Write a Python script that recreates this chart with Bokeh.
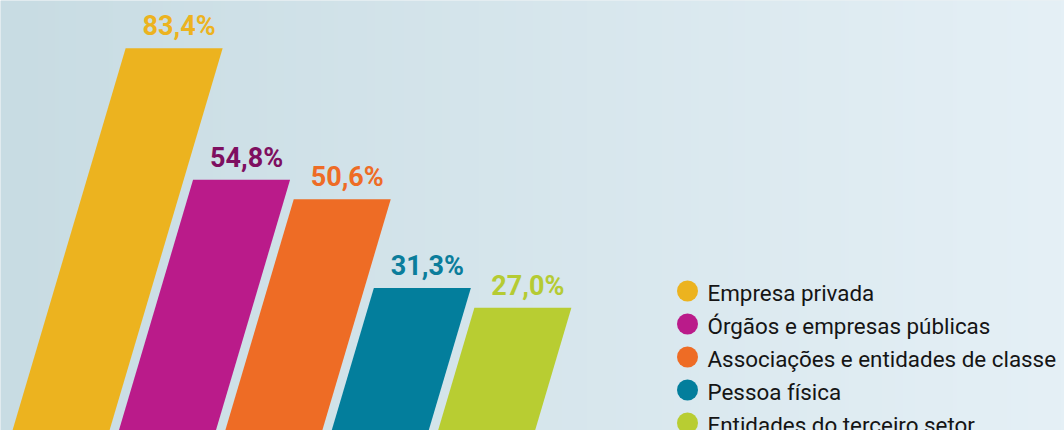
import numpy as np
from bokeh.plotting import figure
from bokeh.models import Range1d, ColumnDataSource
from bokeh.core.properties import value
from bokeh.embed import file_html
from bokeh.resources import INLINE

# ---- data ----
categories = ["Empresa privada", "Órgãos e empresas públicas",
              "Associações e entidades de classe", "Pessoa física",
              "Entidades do terceiro setor"]
values = [83.4, 54.8, 50.6, 31.3, 27.0]
labels = ["83,4%", "54,8%", "50,6%", "31,3%", "27,0%"]
bar_colors = ["#ECB31F", "#BA1B8A", "#EE6C25", "#037E9C", "#B8CD32"]
label_colors = ["#ECB31F", "#7E0F60", "#EE6C25", "#0B7D9B", "#B5CB33"]

# ---- layout constants (screen-like units) ----
W, H = 1064, 430
PX_PER_PCT = 4.603          # vertical pixels per percentage point
ZERO_Y = 431.6              # screen y of 0 %
SKEW = 0.296                # horizontal shift per vertical pixel
BASE0, STEP, BAR_W = 11.5, 106.4, 97.0

def v(screen_y):
    return (ZERO_Y - screen_y) / PX_PER_PCT

FONT = value("Roboto")

p = figure(width=W, height=H, output_backend="svg", toolbar_location=None,
           x_range=Range1d(0, W), y_range=Range1d(v(H), v(0)),
           min_border=0, outline_line_color=None)
p.axis.visible = False
p.grid.visible = False
p.background_fill_color = "#d5e4ea"
p.border_fill_color = "#d5e4ea"

# background gradient (decorative)
n = 256
t = np.linspace(0, 1, n)
c0 = np.array([200, 220, 227]); c1 = np.array([229, 240, 246])
cols = (c0[None, :] * (1 - t[:, None]) + c1[None, :] * t[:, None]).astype(np.uint32)
img = np.empty((1, n), dtype=np.uint32)
img[0, :] = (255 << 24) | (cols[:, 2] << 16) | (cols[:, 1] << 8) | cols[:, 0]
p.image_rgba(image=[img], x=0, y=v(H), dw=W, dh=v(0) - v(H))

# skewed bars
skew_pct = SKEW * PX_PER_PCT  # horizontal units per percentage point
xs, ys = [], []
for i, val in enumerate(values):
    b = BASE0 + i * STEP
    xs.append([b, b + BAR_W, b + BAR_W + skew_pct * val, b + skew_pct * val])
    ys.append([0, 0, val, val])
src = ColumnDataSource(dict(xs=xs, ys=ys, color=bar_colors))
p.patches("xs", "ys", fill_color="color", line_color=None, source=src)

# value labels
lx = [BASE0 + i * STEP + BAR_W / 2 + skew_pct * val + 5 for i, val in enumerate(values)]
lsrc = ColumnDataSource(dict(x=lx, y=values, t=labels, c=label_colors))
p.text("x", "y", text="t", source=lsrc, text_color="c", text_font=FONT,
       text_font_style="bold", text_font_size="27px", text_align="center",
       text_baseline="middle", y_offset=-22)

# legend (manual)
leg_cy = [290.5 + 33 * i for i in range(len(categories))]
leg_src = ColumnDataSource(dict(
    x=[687] * len(categories), y=[v(c) for c in leg_cy],
    tx=[707] * len(categories), ty=[v(c + 1.5) for c in leg_cy],
    t=categories, c=bar_colors))
p.scatter("x", "y", source=leg_src, size=21, fill_color="c", line_color=None)
p.text("tx", "ty", text="t", source=leg_src, text_color="#151515", text_font=FONT,
       text_font_size="22.4px", text_baseline="middle", text_align="left")

open("out.html", "w").write(file_html(p, INLINE))
